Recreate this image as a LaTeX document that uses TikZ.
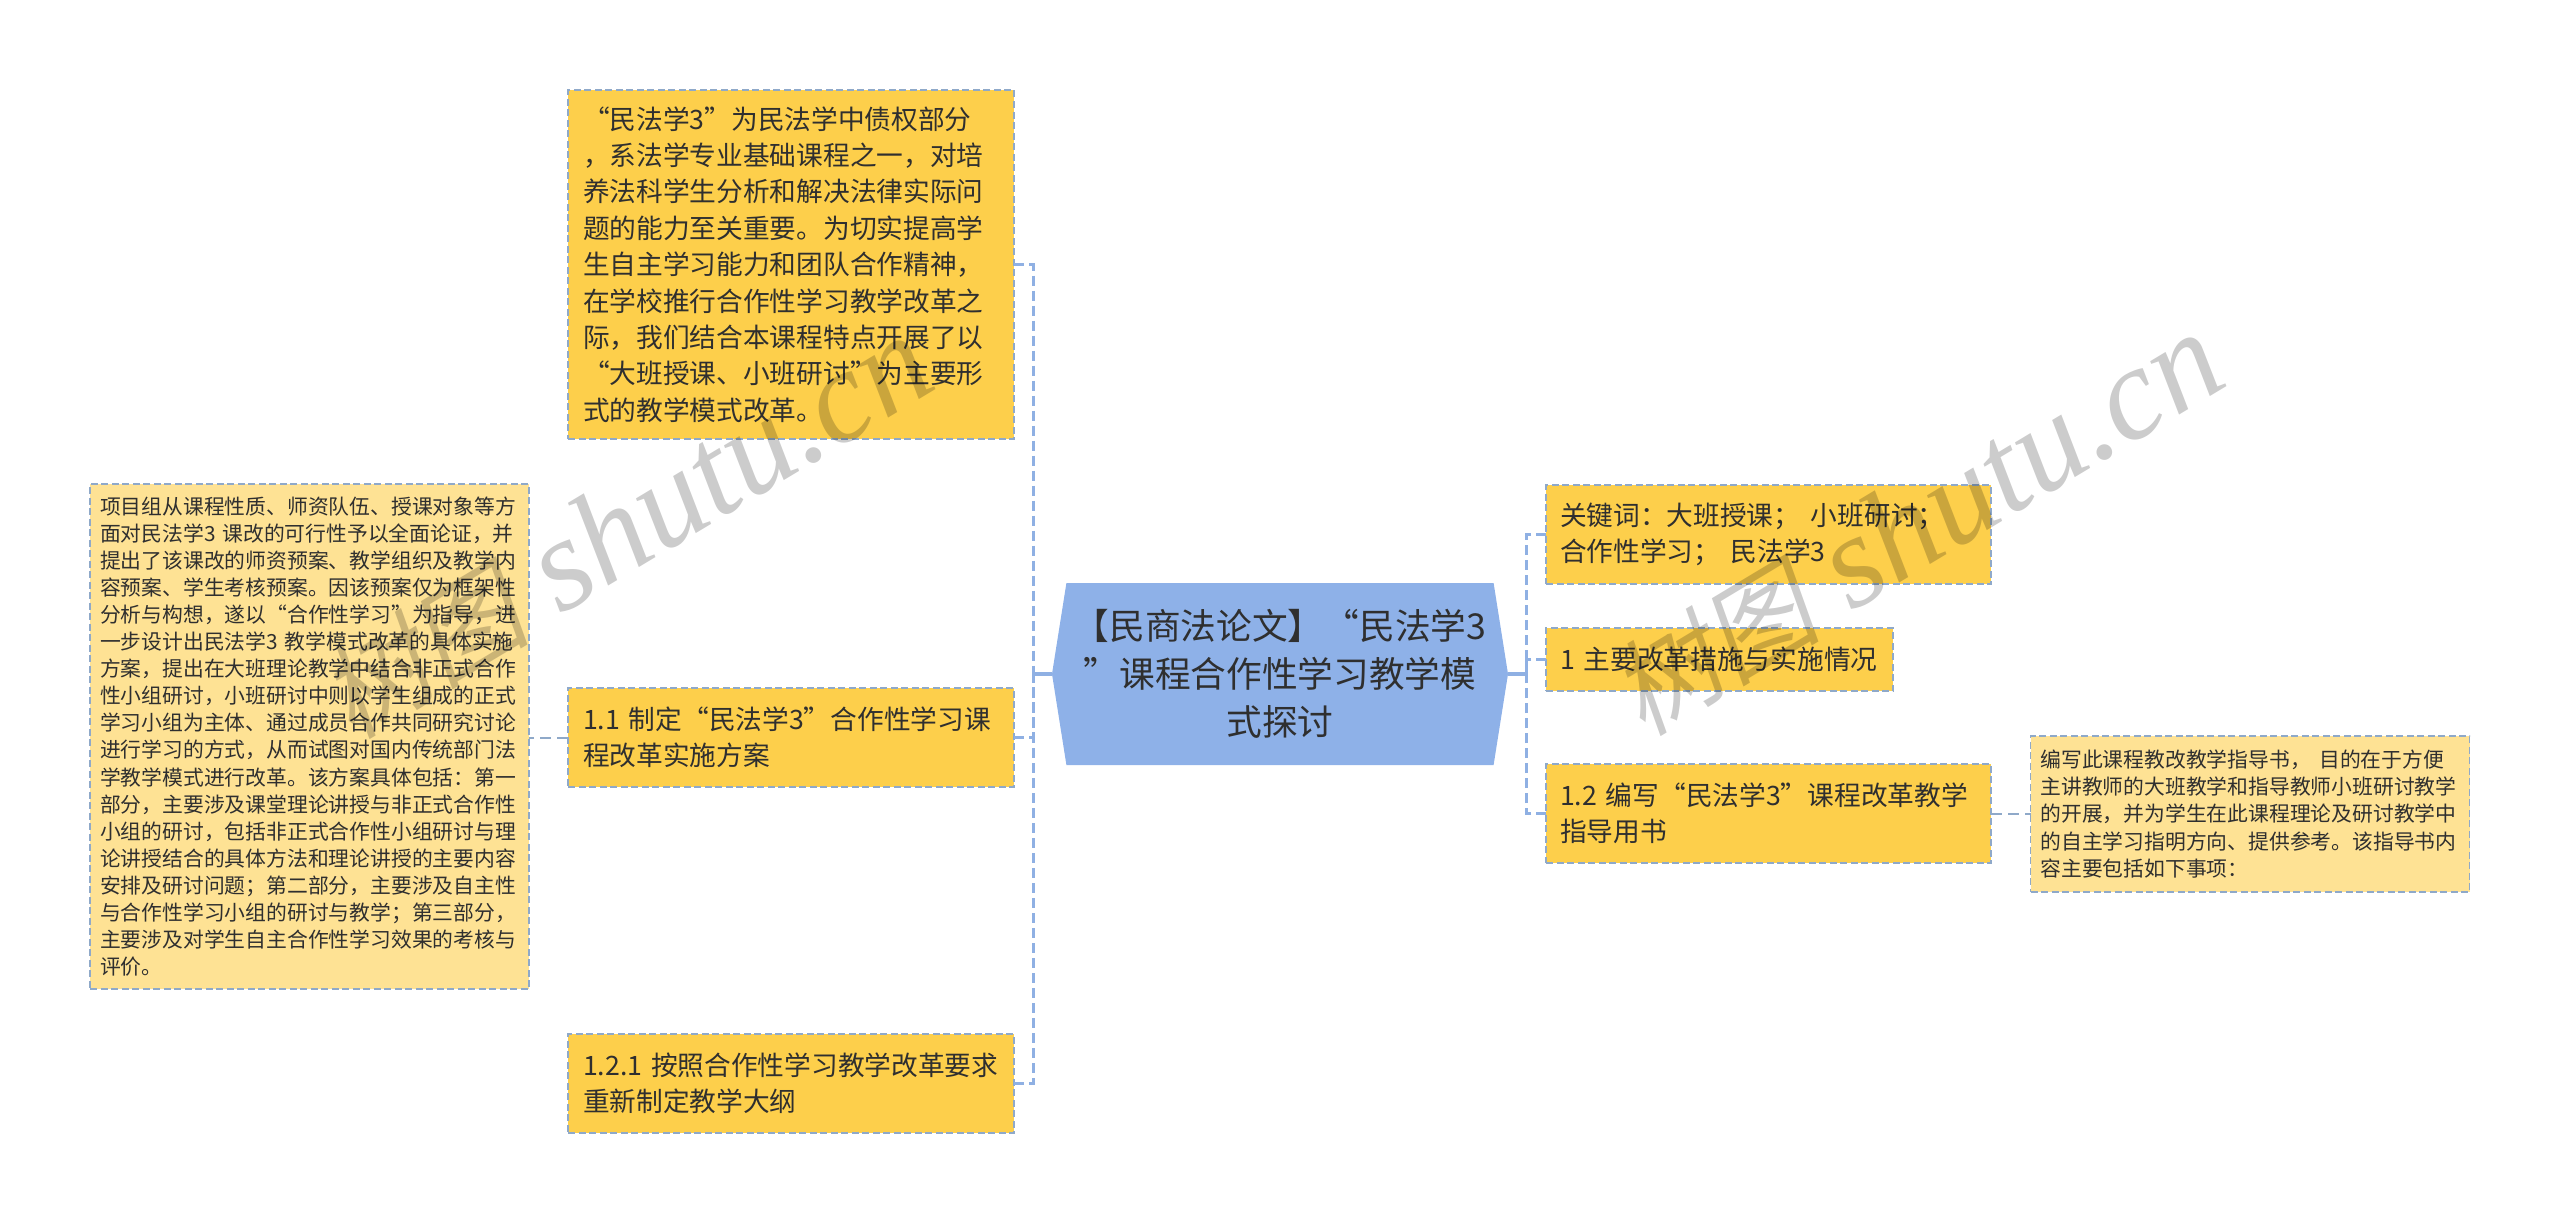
\documentclass[tikz,border=0pt]{standalone}
\usepackage{fontspec}
\setmainfont{Noto Sans CJK SC}
\newfontfamily\markfont{Liberation Serif}
\newfontfamily\markcjk[FakeSlant=0.2]{Noto Sans CJK SC}
\usepackage{tikz}
\usetikzlibrary{shapes.symbols,calc}

\definecolor{rootblue}{HTML}{8EB1E8}
\definecolor{linkblue}{HTML}{8FB0E3}
\definecolor{edgegrey}{HTML}{8FA9C9}
\definecolor{topicgold}{HTML}{FDCF4B}
\definecolor{notegold}{HTML}{FEE294}
\definecolor{inkgrey}{HTML}{2F2F2F}

\tikzset{
  topicbox/.style={fill=topicgold,draw=edgegrey,dash pattern=on 7pt off 3.5pt,line width=1.8pt,
    text=inkgrey,font=\fontsize{26.7pt}{36.4pt}\selectfont,align=left,anchor=north west},
  notebox/.style={fill=notegold,draw=edgegrey,dash pattern=on 7pt off 3.5pt,line width=1.8pt,
    text=inkgrey,font=\fontsize{20.8pt}{27.1pt}\selectfont,align=left,anchor=north west},
  roottopic/.style={signal,signal to=west and east,signal pointer angle=162,fill=rootblue,
    text=inkgrey,font=\fontsize{35.7pt}{48.2pt}\selectfont,align=center,
    minimum width=456pt,minimum height=182pt},
  branchline/.style={draw=linkblue,dash pattern=on 10pt off 5pt,line width=3pt},
  rootstub/.style={draw=linkblue,line width=3.4pt},
  linkline/.style={draw=edgegrey,dash pattern=on 11pt off 6pt,line width=2pt},
  wmark/.style={text=black,opacity=0.2,rotate=31,font=\fontsize{132pt}{132pt}\markfont\itshape}
}
\newcommand{\markword}{{\fontsize{105pt}{105pt}\markcjk 树图} shutu.cn}

\begin{document}
\begin{tikzpicture}[y=1pt,x=1pt,yscale=-1,inner sep=0pt,outer sep=0pt]
  \useasboundingbox (0,0) rectangle (2560,1223);

  \coordinate (ltrunk) at (1033,674);
  \coordinate (rtrunk) at (1526.5,674);

  % left side
  \node[topicbox,minimum width=446pt,minimum height=349pt,text width=416pt,inner xsep=15pt] (intro) at (568,90)
    {“民法学3”为民法学中债权部分\\，系法学专业基础课程之一，对培\\养法科学生分析和解决法律实际问\\题的能力至关重要。为切实提高学\\生自主学习能力和团队合作精神，\\在学校推行合作性学习教学改革之\\际，我们结合本课程特点开展了以\\“大班授课、小班研讨”为主要形\\式的教学模式改革。};
  \node[topicbox,minimum width=446pt,minimum height=99pt,text width=416pt,inner xsep=15pt] (plan) at (568,688)
    {1.1 制定“民法学3”合作性学习课\\程改革实施方案};
  \node[topicbox,minimum width=446pt,minimum height=99pt,text width=416pt,inner xsep=15pt] (outline) at (568,1034)
    {1.2.1 按照合作性学习教学改革要求\\重新制定教学大纲};
  \node[notebox,minimum width=439pt,minimum height=505pt,text width=419pt,inner xsep=10pt] (plannote) at (90,484)
    {项目组从课程性质、师资队伍、授课对象等方\\面对民法学3 课改的可行性予以全面论证，并\\提出了该课改的师资预案、教学组织及教学内\\容预案、学生考核预案。因该预案仅为框架性\\分析与构想，遂以“合作性学习”为指导，进\\一步设计出民法学3 教学模式改革的具体实施\\方案，提出在大班理论教学中结合非正式合作\\性小组研讨，小班研讨中则以学生组成的正式\\学习小组为主体、通过成员合作共同研究讨论\\进行学习的方式，从而试图对国内传统部门法\\学教学模式进行改革。该方案具体包括：第一\\部分，主要涉及课堂理论讲授与非正式合作性\\小组的研讨，包括非正式合作性小组研讨与理\\论讲授结合的具体方法和理论讲授的主要内容\\安排及研讨问题；第二部分，主要涉及自主性\\与合作性学习小组的研讨与教学；第三部分，\\主要涉及对学生自主合作性学习效果的考核与\\评价。};

  % centre
  \node[roottopic] (root) at (1280,674)
    {【民商法论文】“民法学3\\”课程合作性学习教学模\\式探讨};

  % right side
  \node[topicbox,minimum width=445pt,minimum height=99pt,text width=417pt,inner xsep=14pt] (keywords) at (1546,485)
    {关键词：大班授课；\hspace{0.4em}小班研讨；\\合作性学习；\hspace{0.4em}民法学3};
  \node[topicbox,minimum width=347pt,minimum height=63pt,text width=319pt,inner xsep=14pt] (measures) at (1546,628)
    {1 主要改革措施与实施情况};
  \node[topicbox,minimum width=445pt,minimum height=99pt,text width=417pt,inner xsep=14pt] (guide) at (1546,764)
    {1.2 编写“民法学3”课程改革教学\\指导用书};
  \node[notebox,minimum width=439pt,minimum height=156pt,text width=419pt,inner xsep=10pt] (guidenote) at (2030.5,736)
    {编写此课程教改教学指导书，\hspace{0.4em}目的在于方便\\主讲教师的大班教学和指导教师小班研讨教学\\的开展，并为学生在此课程理论及研讨教学中\\的自主学习指明方向、提供参考。该指导书内\\容主要包括如下事项：};

  % connectors
  \draw[rootstub] (root.west) -- (ltrunk);
  \draw[rootstub] (root.east) -- (rtrunk);
  \draw[branchline] (intro.east) -| (ltrunk);
  \draw[branchline] (plan.east) -| (ltrunk);
  \draw[branchline] (outline.east) -| (ltrunk);
  \draw[branchline] (keywords.west) -| (rtrunk);
  \draw[branchline] (measures.west) -| (rtrunk);
  \draw[branchline] (guide.west) -| (rtrunk);
  \draw[linkline] (plan.west) -- (plannote.east |- plan.west);
  \draw[linkline] (guide.east) -- (guidenote.west |- guide.east);

  % watermarks
  \node[wmark] (markleft) at (625,528) {\markword};
  \node[wmark] (markright) at (1916,525) {\markword};
\end{tikzpicture}
\end{document}
